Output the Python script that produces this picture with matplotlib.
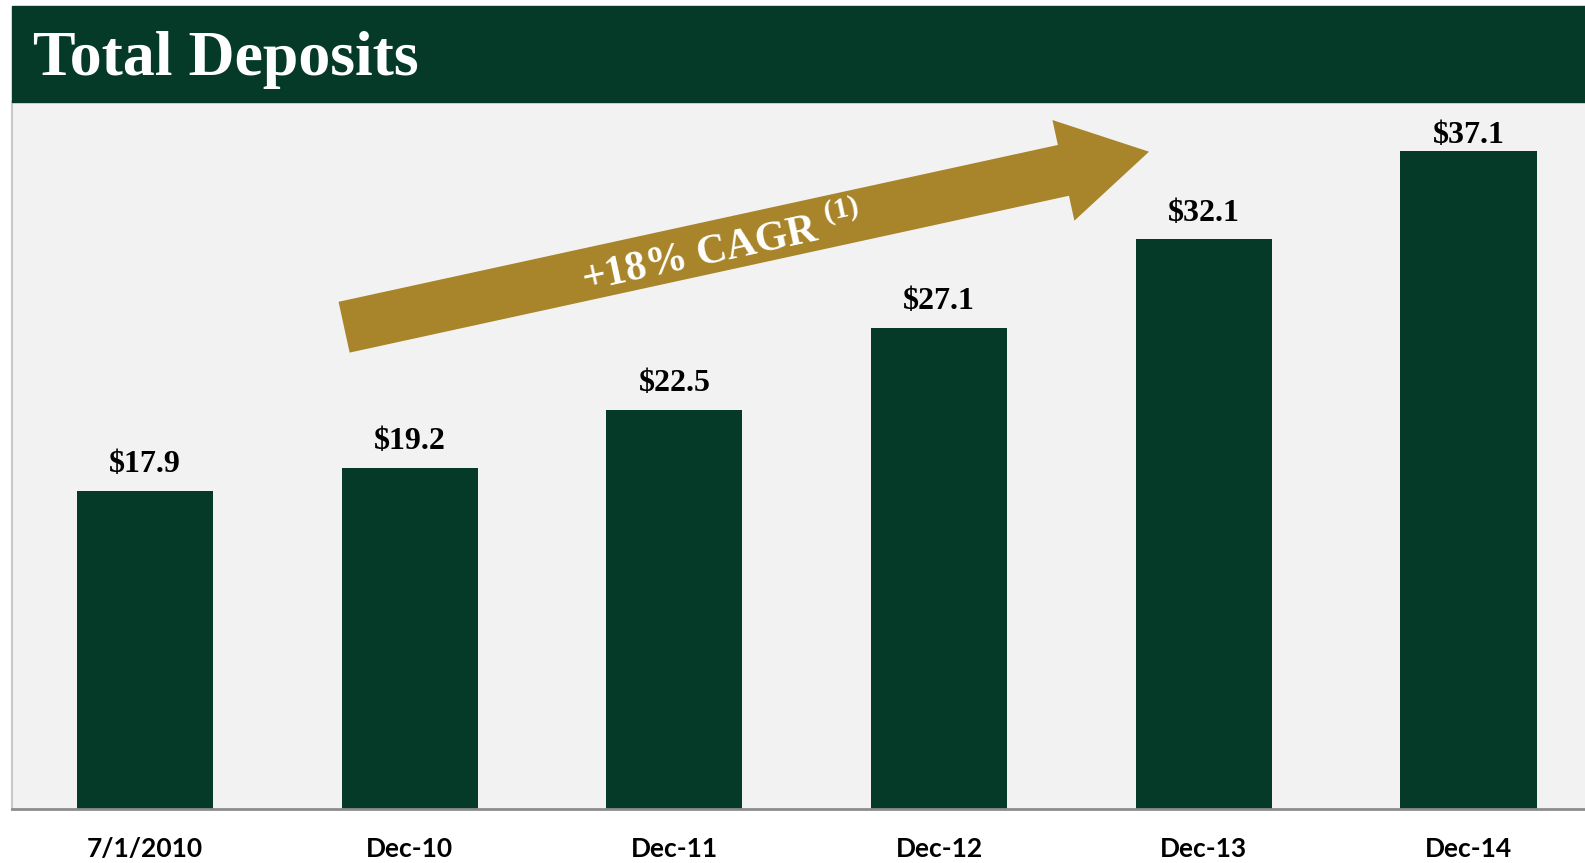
"""
Total Deposits bar chart ($bn) with CAGR arrow.
"""

import matplotlib
matplotlib.use("Agg")
import matplotlib.pyplot as plt
import matplotlib.patches as mpatches

# data
periods = ["7/1/2010", "Dec-10", "Dec-11", "Dec-12", "Dec-13", "Dec-14"]
deposits = [17.9, 19.2, 22.5, 27.1, 32.1, 37.1]
cagr_label = "+18% CAGR"
cagr_note = "(1)"
title = "Total Deposits"

GREEN = "#053a28"
GOLD = "#a8852a"
BG = "#f2f2f2"

plt.rcParams["mathtext.fontset"] = "custom"
plt.rcParams["mathtext.bf"] = "Liberation Serif:bold"
plt.rcParams["mathtext.rm"] = "Liberation Serif:bold"

W, H = 1585, 863
fig = plt.figure(figsize=(W / 100, H / 100), dpi=100)
fig.patch.set_facecolor("white")

# title band
band = mpatches.Rectangle((12 / W, 1 - 102 / H), 1 - 12 / W, 96 / H,
                          transform=fig.transFigure, color=GREEN, zorder=0)
fig.patches.append(band)
fig.text(33 / W, 1 - 75 / H, title, color="white", fontsize=46,
         fontweight="bold", family="Liberation Serif", va="baseline", ha="left")

ax = fig.add_axes([12 / W, 1 - 809 / H, 1 - 12 / W, (809 - 102) / H])
ax.set_facecolor(BG)
ymax = 39.85

x = list(range(len(periods)))
ax.bar(x, deposits, width=0.514, color=GREEN, zorder=2)

# labels sit ~19px above the bar, but get squeezed down near the top edge
for xi, v in zip(x, deposits):
    y_lab = min(v + 1.07, ymax - 2.3)
    ax.text(xi, y_lab, f"\\${v:.1f}", ha="center", va="baseline", fontsize=23,
            fontweight="bold", family="Liberation Serif", color="black", zorder=3)

ax.set_xlim(-0.502, 5.44)
ax.set_ylim(0, ymax)
ax.set_xticks(x)
ax.set_xticklabels(periods, fontsize=19, fontweight="bold", family="Lato")
ax.tick_params(axis="x", length=0, pad=20)
ax.set_yticks([])

for side in ["top", "right"]:
    ax.spines[side].set_visible(False)
ax.spines["left"].set_color("#c8c8c8")
ax.spines["left"].set_linewidth(1.5)
ax.spines["bottom"].set_color("#8c8c8c")
ax.spines["bottom"].set_linewidth(2)

# CAGR arrow, drawn in inches from the figure's bottom-left
tail = (344.1 / 100, (H - 327.2) / 100)
tip = (1149 / 100, (H - 151.7) / 100)
arrow = mpatches.FancyArrow(tail[0], tail[1], tip[0] - tail[0], tip[1] - tail[1],
                            width=0.52, head_width=1.03, head_length=0.876,
                            length_includes_head=True, color=GOLD, lw=0,
                            transform=fig.dpi_scale_trans, zorder=3)
ax.add_patch(arrow)

fig.text(722 / W, 1 - 250 / H, f"{cagr_label} $^{{{cagr_note}}}$", color="white",
         fontsize=30, fontweight="bold", family="Liberation Serif",
         rotation=12.3, rotation_mode="anchor", ha="center", va="center", zorder=4)

fig.savefig("out.png", dpi=100, facecolor="white")
